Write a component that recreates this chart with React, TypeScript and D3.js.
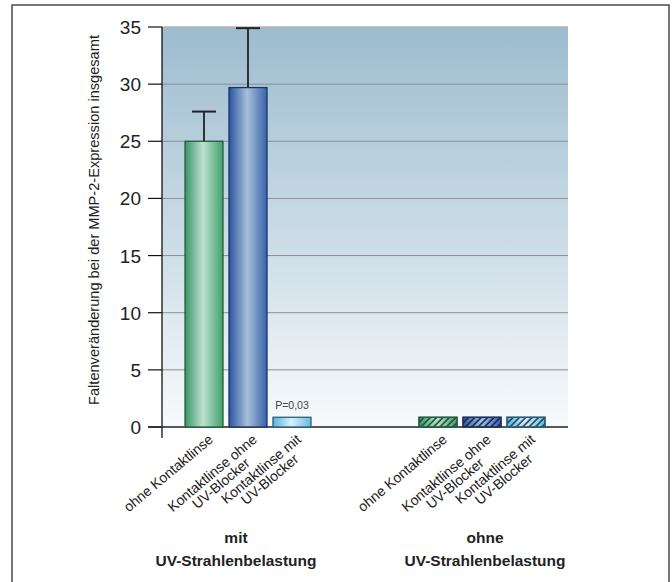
import React, { useEffect, useRef } from "react";
import * as d3 from "d3";

// chart data
const groups = ["mit", "ohne"];
const groupTitles = [["mit", "UV-Strahlenbelastung"], ["ohne", "UV-Strahlenbelastung"]];
const categories = ["ohne Kontaktlinse", "Kontaktlinse ohne UV-Blocker", "Kontaktlinse mit UV-Blocker"];
const categoryLines = [["ohne Kontaktlinse"], ["Kontaktlinse ohne", "UV-Blocker"], ["Kontaktlinse mit", "UV-Blocker"]];
const mitValues = [25.0, 29.7, 0.85];
const mitErrorTop = [27.6, 34.9, null];
const ohneValues = [0.85, 0.85, 0.85];
const pLabels = ["", "", "P=0,03"];
const yTicks = [0, 5, 10, 15, 20, 25, 30, 35];
const yTitle = "Faltenveränderung bei der MMP-2-Expression insgesamt";

const barColors = [
    { dark: "#3a9566", light: "#bde2cf", end: "#41a06d", stroke: "#24603f", hatch: "#1d4f35" },
    { dark: "#2b54a3", light: "#a7bfd9", end: "#3862ab", stroke: "#1c3565", hatch: "#16284f" },
    { dark: "#58b3dc", light: "#d8eff9", end: "#66bde2", stroke: "#2b5d7a", hatch: "#1d465e" },
];

const font = "'Liberation Sans', Arial, sans-serif";

export default function App() {
    const ref = useRef<SVGSVGElement>(null);

    useEffect(() => {
        const width = 672, height = 582;
        const margin = { top: 27, right: 104, bottom: 155, left: 162 };
        const svg = d3.select(ref.current);
        svg.selectAll("*").remove();

        const defs = svg.append("defs");
        const bg = defs.append("linearGradient").attr("id", "bg")
            .attr("x1", 0).attr("x2", 0).attr("y1", 0).attr("y2", 1);
        bg.append("stop").attr("offset", 0).attr("stop-color", "#9dbccf");
        bg.append("stop").attr("offset", 0.55).attr("stop-color", "#cddde7");
        bg.append("stop").attr("offset", 1).attr("stop-color", "#f8fafc");

        barColors.forEach((c, i) => {
            const g = defs.append("linearGradient").attr("id", "bar" + i)
                .attr("x1", 0).attr("x2", 1).attr("y1", 0).attr("y2", 0);
            g.append("stop").attr("offset", 0).attr("stop-color", c.dark);
            g.append("stop").attr("offset", 0.48).attr("stop-color", c.light);
            g.append("stop").attr("offset", 1).attr("stop-color", c.end);
            const p = defs.append("pattern").attr("id", "hatch" + i)
                .attr("patternUnits", "userSpaceOnUse")
                .attr("width", 4.5).attr("height", 4.5)
                .attr("patternTransform", "rotate(45)");
            p.append("line").attr("x1", 1).attr("x2", 1).attr("y1", 0).attr("y2", 4.5)
                .attr("stroke", c.hatch).attr("stroke-width", 1.6);
        });

        // frame
        svg.append("rect")
            .attr("x", 12).attr("y", 5).attr("width", 657).attr("height", 640)
            .attr("fill", "white").attr("stroke", "#4a4a4a").attr("stroke-width", 1.5);

        const y = d3.scaleLinear().domain([0, 35]).range([height - margin.bottom, margin.top]);
        const x0 = d3.scaleBand().domain(groups)
            .range([margin.left, width - margin.right])
            .paddingInner(0.436).paddingOuter(0.0855);
        const x1 = d3.scaleBand().domain(categories)
            .range([0, x0.bandwidth()])
            .paddingInner(0.136).paddingOuter(0.068);

        // plot background
        svg.append("rect")
            .attr("x", margin.left).attr("y", y(35))
            .attr("width", width - margin.right - margin.left)
            .attr("height", y(0) - y(35))
            .attr("fill", "url(#bg)");

        // gridlines + ticks
        yTicks.filter(t => t > 0).forEach(t => {
            svg.append("line")
                .attr("x1", margin.left).attr("x2", width - margin.right)
                .attr("y1", y(t)).attr("y2", y(t))
                .attr("stroke", t === 35 ? "#b4b4b4" : "#8e8e8e").attr("stroke-width", t === 35 ? 1.5 : 1);
        });
        yTicks.forEach(t => {
            svg.append("line")
                .attr("x1", margin.left - 14).attr("x2", margin.left)
                .attr("y1", y(t)).attr("y2", y(t))
                .attr("stroke", "#111").attr("stroke-width", 1.2);
            svg.append("text")
                .attr("x", margin.left - 21).attr("y", y(t) + 7)
                .attr("text-anchor", "end")
                .attr("font-family", font).attr("font-size", 19).attr("fill", "#222")
                .text(t);
        });

        // axes
        svg.append("line")
            .attr("x1", margin.left).attr("x2", margin.left)
            .attr("y1", y(35)).attr("y2", y(0) + 11)
            .attr("stroke", "#111").attr("stroke-width", 1.3);
        svg.append("line")
            .attr("x1", margin.left - 14).attr("x2", width - margin.right)
            .attr("y1", y(0)).attr("y2", y(0))
            .attr("stroke", "#222").attr("stroke-width", 1.3);

        // y title
        svg.append("text")
            .attr("transform", `translate(99,${ (y(0) + y(35)) / 2 - 7 }) rotate(-90)`)
            .attr("text-anchor", "middle")
            .attr("font-family", font).attr("font-size", 14.6).attr("fill", "#222")
            .text(yTitle);

        // bars
        const series = [mitValues, ohneValues];
        groups.forEach((grp, gi) => {
            const gx = x0(grp) as number;
            categories.forEach((cat, ci) => {
                const v = series[gi][ci];
                const bx = gx + (x1(cat) as number);
                const bw = x1.bandwidth();
                svg.append("rect")
                    .attr("x", bx).attr("y", y(v))
                    .attr("width", bw).attr("height", y(0) - y(v))
                    .attr("fill", `url(#bar${ ci })`)
                    .attr("stroke", barColors[ci].stroke).attr("stroke-width", 1.3);
                if (gi === 1) {
                    svg.append("rect")
                        .attr("x", bx).attr("y", y(v))
                        .attr("width", bw).attr("height", y(0) - y(v))
                        .attr("fill", `url(#hatch${ ci })`)
                        .attr("stroke", barColors[ci].stroke).attr("stroke-width", 1.3);
                }
                const err = gi === 0 ? mitErrorTop[ci] : null;
                const cx = bx + bw / 2;
                if (err != null) {
                    svg.append("line")
                        .attr("x1", cx).attr("x2", cx).attr("y1", y(v)).attr("y2", y(err))
                        .attr("stroke", "#222").attr("stroke-width", 1.8);
                    svg.append("line")
                        .attr("x1", cx - 12).attr("x2", cx + 12).attr("y1", y(err)).attr("y2", y(err))
                        .attr("stroke", "#222").attr("stroke-width", 2);
                }
                if (gi === 0 && pLabels[ci]) {
                    svg.append("text")
                        .attr("x", cx).attr("y", y(v) - 8)
                        .attr("text-anchor", "middle")
                        .attr("font-family", font).attr("font-size", 10.5).attr("fill", "#444")
                        .text(pLabels[ci]);
                }

                // rotated category label, block anchored at its top-right, lines centred
                const lg = svg.append("g")
                    .attr("transform", `translate(${ cx + 10 },${ y(0) + 14 }) rotate(-40)`);
                const lines = categoryLines[ci];
                const t0 = lg.append("text")
                    .attr("font-family", font).attr("font-size", 14).attr("fill", "#222")
                    .attr("text-anchor", "end").text(lines[0]);
                const w0 = (t0.node() as SVGTextElement).getComputedTextLength();
                lines.slice(1).forEach((ln, li) => {
                    lg.append("text")
                        .attr("x", -w0 / 2).attr("y", 13.5 * (li + 1))
                        .attr("font-family", font).attr("font-size", 14).attr("fill", "#222")
                        .attr("text-anchor", "middle").text(ln);
                });
            });

            // group title
            groupTitles[gi].forEach((ln, li) => {
                svg.append("text")
                    .attr("x", gx + x0.bandwidth() / 2 + (gi === 0 ? -12 : 3)).attr("y", 543 + li * 23)
                    .attr("text-anchor", "middle")
                    .attr("font-family", font).attr("font-size", 15.5)
                    .attr("font-weight", "bold").attr("fill", "#222")
                    .text(ln);
            });
        });
    }, []);

    return (
        <svg ref={ref} width={672} height={582}
            style={{ position: "absolute", left: 0, top: 0, background: "white" }} />
    );
}
